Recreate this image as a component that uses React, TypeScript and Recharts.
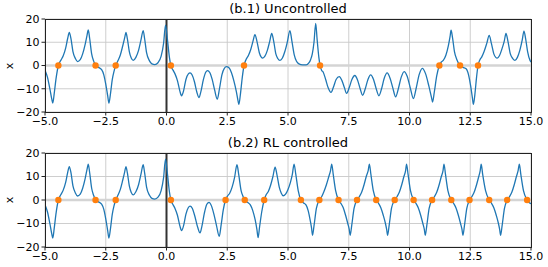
import React from "react";
import {
  ComposedChart,
  Line,
  Scatter,
  XAxis,
  YAxis,
  CartesianGrid,
  ReferenceLine,
} from "recharts";

// x(t), uncontrolled run
const uncontrolled: [number, number][] = [
  [-5.0, -2], [-4.9, -5], [-4.8, -10], [-4.72, -14.5], [-4.68, -16.2], [-4.62, -12], [-4.55, -6],
  [-4.45, 0], [-4.35, 2.2], [-4.25, 4.2], [-4.15, 7.5], [-4.07, 11.5], [-4.0, 14.2], [-3.93, 11.5],
  [-3.85, 6], [-3.75, 3], [-3.66, 1.7], [-3.55, 2.5], [-3.45, 5], [-3.35, 9], [-3.27, 13],
  [-3.22, 15.3], [-3.16, 11.5], [-3.08, 5], [-3.0, 2], [-2.92, 0], [-2.8, -0.8], [-2.67, -1.8],
  [-2.58, -4], [-2.5, -8], [-2.42, -13], [-2.37, -16.2], [-2.31, -12.5], [-2.23, -6], [-2.16, -2.5],
  [-2.09, 0], [-2.0, 2], [-1.9, 4.5], [-1.8, 8.5], [-1.72, 12], [-1.67, 14.2], [-1.61, 11.5],
  [-1.53, 6], [-1.45, 3.2], [-1.37, 2.2], [-1.26, 3.5], [-1.15, 6.5], [-1.05, 11], [-0.96, 15],
  [-0.9, 11.5], [-0.82, 5.5], [-0.7, 2], [-0.6, 0.7], [-0.48, 0.4], [-0.35, 1.2], [-0.22, 4],
  [-0.12, 9.5], [-0.04, 17.4], [0.04, 11], [0.12, 3.5], [0.18, 0], [0.27, -2], [0.35, -3.6],
  [0.45, -6.5], [0.55, -11], [0.62, -13], [0.7, -11], [0.8, -6], [0.9, -3.6], [0.97, -3.2],
  [1.05, -4], [1.15, -7], [1.25, -11.5], [1.34, -13.8], [1.42, -11], [1.52, -6], [1.62, -2.8],
  [1.69, -2.2], [1.78, -3], [1.88, -6], [1.98, -10.5], [2.09, -14.5], [2.18, -10], [2.28, -4],
  [2.38, -1.2], [2.47, -0.5], [2.57, -1], [2.67, -3], [2.77, -6.5], [2.87, -11], [2.95, -15.5],
  [2.98, -16.7], [3.04, -12.5], [3.12, -5], [3.19, 0], [3.27, 2.5], [3.37, 4.3], [3.47, 7],
  [3.56, 10.5], [3.64, 13.3], [3.72, 10.5], [3.82, 5.5], [3.9, 3.6], [3.96, 3.2], [4.05, 4],
  [4.15, 6.5], [4.25, 10.5], [4.33, 13.8], [4.41, 10.5], [4.5, 5], [4.58, 3], [4.67, 2.2],
  [4.77, 3.2], [4.87, 6], [4.97, 10], [5.08, 15], [5.16, 10.5], [5.26, 4.5], [5.35, 1.8],
  [5.45, 0.7], [5.6, 0.3], [5.75, 0.3], [5.85, 1], [5.93, 2.5], [6.0, 5], [6.07, 10],
  [6.14, 18.1], [6.2, 11], [6.27, 3.5], [6.32, 0], [6.38, -2], [6.45, -2.9], [6.55, -6],
  [6.65, -9.5], [6.77, -11.6], [6.88, -9], [6.98, -6], [7.11, -4.8], [7.22, -6.5], [7.32, -9.5],
  [7.41, -12], [7.52, -9.5], [7.63, -6], [7.75, -4.3], [7.87, -6.5], [7.97, -10], [8.07, -12.8],
  [8.18, -10], [8.29, -6], [8.4, -4], [8.52, -6], [8.63, -10], [8.74, -13], [8.85, -10],
  [8.96, -5.5], [9.08, -3.2], [9.2, -5.5], [9.31, -9.5], [9.43, -13.5], [9.54, -10], [9.66, -5],
  [9.78, -2.6], [9.9, -4.5], [10.03, -9.5], [10.16, -14.2], [10.27, -10], [10.4, -3.8],
  [10.53, -1.2], [10.66, -3.5], [10.8, -9], [10.9, -13.5], [10.95, -15.7], [11.02, -11.5],
  [11.12, -4.5], [11.23, 0], [11.31, 1.5], [11.39, 2.2], [11.5, 4.5], [11.6, 8.5], [11.67, 12.5],
  [11.71, 15.2], [11.77, 12], [11.85, 6], [11.95, 2.5], [12.08, 0], [12.2, -0.8], [12.33, -1.4],
  [12.43, -4], [12.52, -9], [12.59, -14], [12.63, -16.7], [12.69, -12.5], [12.76, -5], [12.82, 0],
  [12.9, 2.5], [12.97, 3.6], [13.07, 6], [13.18, 9.5], [13.28, 13], [13.37, 9.5], [13.47, 5],
  [13.55, 3.5], [13.61, 3.2], [13.7, 4.2], [13.8, 7], [13.9, 10.5], [13.97, 13.8], [14.05, 10.5],
  [14.15, 5], [14.25, 3], [14.34, 2.2], [14.44, 3.5], [14.54, 6.5], [14.64, 11], [14.71, 14.8],
  [14.78, 11.5], [14.86, 6], [14.96, 2.2], [15.0, 1.5],
];

// x(t), RL controlled run
const controlled: [number, number][] = [
  [-5.0, -2], [-4.9, -5], [-4.8, -10], [-4.72, -14.5], [-4.68, -16.2], [-4.62, -12], [-4.55, -6],
  [-4.45, 0], [-4.35, 2.2], [-4.25, 4.2], [-4.15, 7.5], [-4.07, 11.5], [-4.0, 14.2], [-3.93, 11.5],
  [-3.85, 6], [-3.75, 3], [-3.66, 1.7], [-3.55, 2.5], [-3.45, 5], [-3.35, 9], [-3.27, 13],
  [-3.22, 15.3], [-3.16, 11.5], [-3.08, 5], [-3.0, 2], [-2.92, 0], [-2.8, -0.8], [-2.67, -1.8],
  [-2.58, -4], [-2.5, -8], [-2.42, -13], [-2.37, -16.2], [-2.31, -12.5], [-2.23, -6], [-2.16, -2.5],
  [-2.09, 0], [-2.0, 2], [-1.9, 4.5], [-1.8, 8.5], [-1.72, 12], [-1.67, 14.2], [-1.61, 11.5],
  [-1.53, 6], [-1.45, 3.2], [-1.37, 2.2], [-1.26, 3.5], [-1.15, 6.5], [-1.05, 11], [-0.96, 15],
  [-0.9, 11.5], [-0.82, 5.5], [-0.7, 2], [-0.6, 0.7], [-0.48, 0.4], [-0.35, 1.2], [-0.22, 4],
  [-0.12, 9.5], [-0.04, 17.4], [0.04, 11], [0.12, 3.5], [0.18, 0], [0.27, -2], [0.35, -3.6],
  [0.45, -6.5], [0.55, -11], [0.62, -13], [0.7, -11], [0.8, -6], [0.9, -3.2], [0.97, -2.6],
  [1.06, -3.5], [1.17, -7], [1.28, -11.5], [1.38, -14], [1.46, -11], [1.56, -5.5], [1.66, -1.8],
  [1.75, -1], [1.85, -2.5], [1.95, -6], [2.06, -11], [2.17, -15.5], [2.25, -10.5], [2.34, -4],
  [2.43, 0], [2.52, 1.8], [2.6, 2.9], [2.7, 5.5], [2.8, 9.5], [2.9, 15], [2.97, 11], [3.07, 4],
  [3.15, 1.5], [3.22, 0], [3.33, -1], [3.45, -2.1], [3.55, -4.5], [3.65, -8.5], [3.72, -12.5],
  [3.77, -16], [3.83, -11.5], [3.92, -5], [4.02, 0], [4.1, 2.2], [4.19, 3.6], [4.29, 6.5],
  [4.38, 10], [4.47, 14], [4.55, 10.5], [4.64, 5.5], [4.72, 3], [4.8, 1.8], [4.9, 2.5], [5.0, 4.5],
  [5.1, 7.5], [5.18, 11], [5.25, 15.3], [5.32, 11], [5.42, 4], [5.53, 0], [5.63, -1.2],
  [5.74, -2.1], [5.83, -4.5], [5.92, -9], [5.97, -12], [6.01, -15], [6.07, -11], [6.17, -3.5],
  [6.29, 0], [6.39, 1.5], [6.48, 3.6], [6.58, 6.5], [6.68, 10], [6.75, 12.5], [6.8, 15.3],
  [6.86, 11], [6.96, 4], [7.08, 0], [7.18, -1.5], [7.27, -3.2], [7.37, -6.5], [7.46, -10],
  [7.52, -12.5], [7.56, -15], [7.62, -11], [7.72, -3.5], [7.84, 0], [7.94, 1.5], [8.03, 3.3],
  [8.13, 6.5], [8.22, 10], [8.3, 12.5], [8.35, 15.3], [8.41, 11], [8.51, 4], [8.63, 0],
  [8.73, -1.5], [8.82, -3.3], [8.92, -6.5], [9.01, -10], [9.06, -12.5], [9.1, -15], [9.16, -11],
  [9.26, -3.5], [9.39, 0], [9.49, 1.5], [9.58, 3.3], [9.68, 6.5], [9.77, 10], [9.84, 12.5],
  [9.88, 15.3], [9.94, 11], [10.04, 4], [10.17, 0], [10.27, -1.5], [10.36, -3.3], [10.46, -6.5],
  [10.55, -10], [10.61, -12.5], [10.65, -15], [10.71, -11], [10.81, -3.5], [10.93, 0],
  [11.03, 1.5], [11.12, 3.3], [11.22, 6.5], [11.31, 10], [11.38, 12.5], [11.42, 15.3],
  [11.48, 11], [11.58, 4], [11.72, 0], [11.82, -1.5], [11.91, -3.3], [12.01, -6.5], [12.1, -10],
  [12.16, -12.5], [12.2, -15], [12.26, -11], [12.36, -3.5], [12.47, 0], [12.57, 1.5],
  [12.66, 3.3], [12.76, 6.5], [12.85, 10], [12.91, 12.5], [12.95, 15.3], [13.01, 11],
  [13.13, 4], [13.28, 0], [13.38, -1.5], [13.47, -3.3], [13.57, -6.5], [13.66, -10],
  [13.71, -12.5], [13.75, -15], [13.81, -11], [13.91, -3.5], [14.02, 0], [14.12, 1.5],
  [14.21, 3.3], [14.31, 6.5], [14.4, 10], [14.47, 12.5], [14.52, 15.3], [14.58, 11], [14.69, 4],
  [14.84, 0], [14.93, -1.2], [15.0, -1.6],
];

// zero crossings marked in orange
const crossingsUncontrolled = [-4.45, -2.92, -2.09, 0.18, 3.19, 6.32, 11.23, 12.08, 12.82];
const crossingsControlled = [
  -4.45, -2.92, -2.09, 0.18, 2.43, 3.22, 4.02, 5.53, 6.29, 7.08, 7.84, 8.63, 9.39, 10.17,
  10.93, 11.72, 12.47, 13.28, 14.02, 14.84,
];

const xTicks = [-5, -2.5, 0, 2.5, 5, 7.5, 10, 12.5, 15];
const yTicks = [-20, -10, 0, 10, 20];

const minus = (s: string) => s.replace("-", "\u2212");
const FONT = "'DejaVu Sans', sans-serif";

function Panel({
  top,
  title,
  series,
  crossings,
  plotTop,
  xAxisHeight,
}: {
  top: number;
  title: string;
  series: [number, number][];
  crossings: number[];
  plotTop: number;
  xAxisHeight: number;
}) {
  const lineData = series.map(([t, x]) => ({ t, x }));
  const dotData = crossings.map((t) => ({ t, x: 0 }));
  const height = 133;
  const plotH = height - plotTop - xAxisHeight;
  return (
    <div style={{ position: "absolute", left: 0, top, width: 548, height }}>
      <ComposedChart
        width={548}
        height={height}
        margin={{ top: plotTop, right: 17, bottom: 0, left: 0 }}
      >
        <CartesianGrid stroke="#c8c8c8" strokeWidth={0.9} />
        <XAxis
          dataKey="t"
          type="number"
          domain={[-5, 15]}
          ticks={xTicks}
          allowDataOverflow
          height={xAxisHeight}
          axisLine={false}
          tickSize={3.5}
          tickLine={{ stroke: "#222" }}
          tick={{ fontSize: 11, fill: "#000", fontFamily: FONT }}
          tickFormatter={(v: number) => minus(v.toFixed(1))}
        />
        <YAxis
          dataKey="x"
          type="number"
          domain={[-20, 20]}
          ticks={yTicks}
          allowDataOverflow
          width={45}
          axisLine={false}
          tickSize={3.5}
          tickLine={{ stroke: "#222" }}
          tick={{ fontSize: 11, fill: "#000", fontFamily: FONT }}
          tickFormatter={(v: number) => minus(String(v))}
        />
        <ReferenceLine y={0} stroke="#d4d4d4" strokeWidth={2.5} />
        <ReferenceLine x={0} stroke="#333" strokeWidth={2} />
        <Line
          data={lineData}
          dataKey="x"
          type="monotone"
          stroke="#1f77b4"
          strokeWidth={1.3}
          dot={false}
          activeDot={false}
          isAnimationActive={false}
        />
        <Scatter
          data={dotData}
          dataKey="x"
          isAnimationActive={false}
          shape={(p: any) => <circle cx={p.cx} cy={p.cy} r={3.2} fill="#ff7f0e" />}
        />
      </ComposedChart>
      <div
        style={{
          position: "absolute",
          left: 45,
          top: plotTop,
          width: 487,
          height: plotH + 1,
          border: "1px solid #222",
          boxSizing: "border-box",
          pointerEvents: "none",
        }}
      />
      <div
        style={{
          position: "absolute",
          left: 45,
          width: 486,
          top: plotTop - 18,
          textAlign: "center",
          fontSize: 13,
          fontFamily: FONT,
          lineHeight: "15px",
        }}
      >
        {title}
      </div>
      <div
        style={{
          position: "absolute",
          left: 4,
          top: plotTop + plotH / 2 - 7,
          width: 12,
          height: 14,
          fontSize: 11,
          fontFamily: FONT,
          lineHeight: "14px",
          textAlign: "center",
          transform: "rotate(-90deg)",
        }}
      >
        x
      </div>
    </div>
  );
}

export default function App() {
  return (
    <div
      style={{
        position: "absolute",
        left: 0,
        top: 0,
        width: 548,
        height: 267,
        background: "#fff",
      }}
    >
      <Panel
        top={0}
        title="(b.1) Uncontrolled"
        series={uncontrolled}
        crossings={crossingsUncontrolled}
        plotTop={19}
        xAxisHeight={21}
      />
      <Panel
        top={134}
        title="(b.2) RL controlled"
        series={controlled}
        crossings={crossingsControlled}
        plotTop={19}
        xAxisHeight={20}
      />
    </div>
  );
}
